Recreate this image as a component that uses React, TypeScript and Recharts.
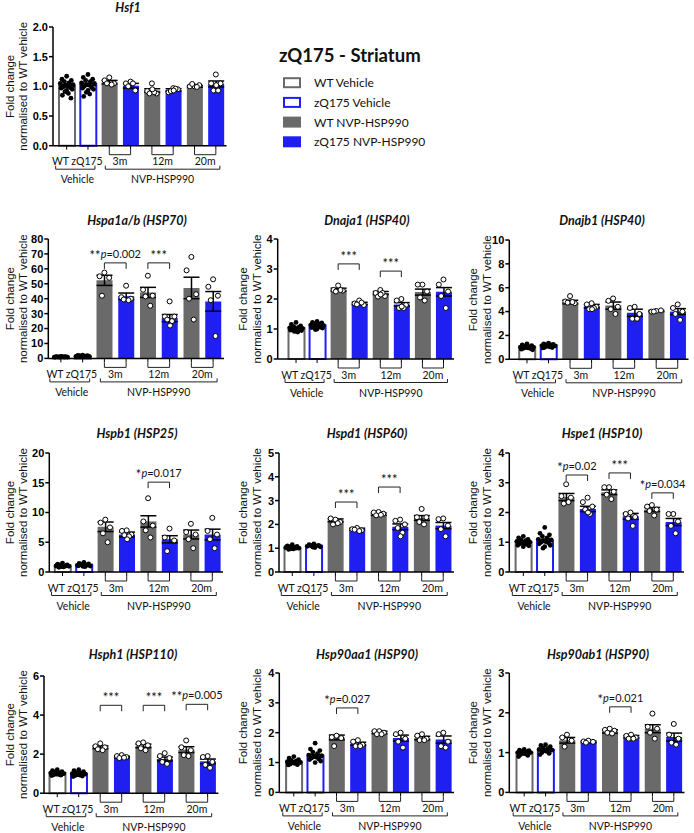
import React from "react";
import { ComposedChart, Bar, Cell, ErrorBar, Scatter, XAxis, YAxis } from "recharts";

// groups in plotting order
const GROUP_KEYS = ["wtVeh", "zqVeh", "wt3", "zq3", "wt12", "zq12", "wt20", "zq20"];
const PAIR_LABELS = ["3m", "12m", "20m"];

const GREY = "#6a6a6a";
const BLUE = "#1f1ff2";

// ---- Hsf1
const HSF1_MEAN = [1.01, 1.03, 1.07, 1.01, 0.93, 0.94, 1.0, 1.04];
const HSF1_SEM = [0.02, 0.02, 0.03, 0.04, 0.03, 0.02, 0.015, 0.05];
const HSF1_DOTS = [
  [1.17, 1.12, 1.1, 1.08, 1.06, 1.05, 1.03, 1.02, 1.0, 0.99, 0.98, 0.97, 0.95, 0.93, 0.91, 0.88, 0.85, 0.8],
  [1.2, 1.15, 1.12, 1.1, 1.08, 1.06, 1.05, 1.03, 1.02, 1.0, 0.98, 0.97, 0.95, 0.93, 0.9, 0.87, 0.83],
  [1.15, 1.1, 1.05, 1.05, 1.03],
  [1.08, 1.05, 0.93, 1.0, 1.05],
  [1.05, 0.92, 0.88, 0.88, 0.9, 0.95],
  [0.97, 0.9, 0.95, 0.92, 0.96, 0.93],
  [1.0, 1.0, 1.02, 1.04, 0.99],
  [1.2, 1.05, 1.05, 0.93, 0.93, 1.02],
];
const HSF1_SIG: any[] = [];

// ---- Hspa1a/b
const HSPA1_MEAN = [1.0, 1.5, 52.3, 41.6, 44.2, 27.0, 47.2, 38.2];
const HSPA1_SEM = [0.1, 0.1, 3.4, 2.2, 3.4, 2.4, 7.2, 6.6];
const HSPA1_DOTS = [
  [1.3, 1.2, 1.1, 1.0, 1.0, 0.9, 0.9, 0.8, 1.1, 1.0, 0.95, 0.85],
  [2.2, 2.0, 1.8, 1.6, 1.5, 1.4, 1.3, 1.2, 1.5, 1.7, 1.1, 1.4],
  [57.5, 55, 54, 42],
  [48.7, 41, 40, 39.5, 39],
  [55.4, 46, 42, 41.5, 35.3],
  [38.2, 28, 28, 26, 25, 22],
  [68, 59, 43, 40, 26],
  [53, 48, 42, 39, 15],
];
const HSPA1_SIG = [
  { pair: 0, y: 64, stars: "**", p: "0.002" },
  { pair: 1, y: 64, stars: "***" },
];

// ---- Dnaja1
const DNAJA1_MEAN = [1.03, 1.12, 2.31, 1.85, 2.2, 1.82, 2.23, 2.24];
const DNAJA1_SEM = [0.02, 0.02, 0.05, 0.04, 0.05, 0.06, 0.1, 0.14];
const DNAJA1_DOTS = [
  [1.22, 1.15, 1.1, 1.08, 1.05, 1.04, 1.02, 1.0, 0.99, 0.98, 0.97, 0.96, 0.95, 0.93, 0.92, 0.9],
  [1.25, 1.22, 1.2, 1.18, 1.15, 1.13, 1.12, 1.1, 1.1, 1.08, 1.06, 1.05, 1.03, 1.0, 0.98],
  [2.45, 2.3, 2.28, 2.25, 2.3],
  [1.95, 1.85, 1.8, 1.82, 1.88],
  [2.3, 2.2, 2.1, 2.08, 2.2, 2.15],
  [2.0, 1.95, 1.8, 1.7, 1.7, 1.75],
  [2.48, 2.48, 2.25, 2.05, 1.95],
  [2.65, 2.48, 2.25, 2.1, 1.7],
];
const DNAJA1_SIG = [
  { pair: 0, y: 3.17, stars: "***" },
  { pair: 1, y: 2.93, stars: "***" },
];

// ---- Dnajb1
const DNAJB1_MEAN = [1.06, 1.18, 4.8, 4.45, 4.5, 3.9, 4.05, 4.0];
const DNAJB1_SEM = [0.03, 0.03, 0.15, 0.15, 0.3, 0.3, 0.05, 0.25];
const DNAJB1_DOTS = [
  [1.3, 1.2, 1.15, 1.1, 1.05, 1.02, 1.0, 0.98, 0.95, 0.92, 0.9, 0.85, 0.8],
  [1.35, 1.3, 1.25, 1.2, 1.2, 1.15, 1.12, 1.1, 1.05, 1.0, 0.98, 0.95],
  [5.3, 4.85, 4.7, 4.75, 4.8],
  [4.7, 4.6, 4.4, 4.2, 4.3, 4.2],
  [5.1, 4.9, 4.4, 4.2, 3.8],
  [4.4, 4.3, 3.8, 3.4, 3.4],
  [4.05, 4.0, 4.1, 4.0],
  [4.6, 4.3, 4.0, 3.8, 3.3],
];
const DNAJB1_SIG: any[] = [];

// ---- Hspb1
const HSPB1_MEAN = [1.1, 1.2, 7.6, 6.3, 8.5, 5.5, 6.3, 6.3];
const HSPB1_SEM = [0.05, 0.06, 0.8, 0.4, 0.95, 0.6, 0.75, 0.9];
const HSPB1_DOTS = [
  [1.5, 1.3, 1.2, 1.1, 1.0, 1.0, 0.95, 0.9, 0.85, 0.8, 1.05, 1.15],
  [1.6, 1.45, 1.35, 1.25, 1.2, 1.1, 1.0, 0.95, 0.9, 1.3, 1.15, 1.05],
  [8.8, 8.3, 7.5, 6.5, 5.0],
  [7.0, 6.9, 6.3, 6.2, 6.0, 5.5],
  [12.4, 8.5, 7.8, 7.0, 5.8],
  [7.3, 5.8, 5.3, 3.5],
  [8.1, 6.7, 6.3, 5.5, 4.0],
  [9.1, 6.9, 6.3, 5.5, 4.0],
];
const HSPB1_SIG = [{ pair: 1, y: 15.1, stars: "*", p: "0.017" }];

// ---- Hspd1
const HSPD1_MEAN = [1.02, 1.1, 2.17, 1.8, 2.43, 1.9, 2.27, 1.95];
const HSPD1_SEM = [0.01, 0.01, 0.06, 0.04, 0.05, 0.12, 0.1, 0.13];
const HSPD1_DOTS = [
  [1.15, 1.1, 1.08, 1.05, 1.03, 1.02, 1.0, 0.98, 0.97, 0.95, 1.0, 1.06],
  [1.18, 1.15, 1.12, 1.1, 1.1, 1.08, 1.06, 1.05, 1.03, 1.12],
  [2.2, 2.25, 2.1, 2.0, 2.05],
  [1.85, 1.8, 1.75, 1.78, 1.72],
  [2.52, 2.5, 2.45, 2.38, 2.4],
  [2.2, 2.15, 2.0, 1.85, 1.65, 1.5],
  [2.65, 2.3, 2.3, 2.1, 2.0],
  [2.25, 2.22, 1.95, 1.8, 1.5],
];
const HSPD1_SIG = [
  { pair: 0, y: 2.94, stars: "***" },
  { pair: 1, y: 3.57, stars: "***" },
];

// ---- Hspe1
const HSPE1_MEAN = [1.01, 1.06, 2.52, 2.12, 2.68, 1.87, 2.1, 1.68];
const HSPE1_SEM = [0.02, 0.04, 0.12, 0.09, 0.08, 0.1, 0.07, 0.12];
const HSPE1_DOTS = [
  [1.2, 1.15, 1.1, 1.08, 1.05, 1.03, 1.0, 0.98, 0.96, 0.95, 0.93, 0.9, 0.88, 0.85, 1.02, 0.99],
  [1.5, 1.3, 1.25, 1.2, 1.15, 1.1, 1.08, 1.05, 1.02, 1.0, 0.98, 0.95, 0.9, 0.85, 0.8],
  [2.95, 2.55, 2.5, 2.3, 2.35],
  [2.5, 2.35, 2.2, 2.1, 1.95, 2.0],
  [2.85, 2.85, 2.7, 2.6, 2.45],
  [2.0, 1.95, 1.85, 1.8, 1.55],
  [2.25, 2.2, 2.1, 2.05, 1.9],
  [1.95, 1.95, 1.7, 1.55, 1.3],
];
const HSPE1_SIG = [
  { pair: 0, y: 3.26, stars: "*", p: "0.02" },
  { pair: 1, y: 3.33, stars: "***" },
  { pair: 2, y: 2.66, stars: "*", p: "0.034" },
];

// ---- Hsph1
const HSPH1_MEAN = [1.03, 1.0, 2.35, 1.85, 2.42, 1.75, 2.23, 1.63];
const HSPH1_SEM = [0.02, 0.02, 0.07, 0.04, 0.09, 0.1, 0.15, 0.12];
const HSPH1_DOTS = [
  [1.2, 1.15, 1.1, 1.08, 1.05, 1.03, 1.0, 0.98, 0.96, 0.94, 0.92, 0.9],
  [1.2, 1.15, 1.1, 1.05, 1.02, 1.0, 0.98, 0.95, 0.92, 0.9, 0.88, 0.85],
  [2.55, 2.4, 2.35, 2.25, 2.2],
  [1.95, 1.9, 1.85, 1.8, 1.82],
  [2.6, 2.55, 2.45, 2.3, 2.2],
  [2.05, 1.9, 1.8, 1.6, 1.5],
  [2.7, 2.35, 2.2, 1.95, 1.9],
  [1.9, 1.85, 1.6, 1.45, 1.3],
];
const HSPH1_SIG = [
  { pair: 0, y: 4.5, stars: "***" },
  { pair: 1, y: 4.5, stars: "***" },
  { pair: 2, y: 4.55, stars: "**", p: "0.005" },
];

// ---- Hsp90aa1
const HSP90AA1_MEAN = [1.03, 1.23, 1.84, 1.63, 2.01, 1.82, 1.82, 1.77];
const HSP90AA1_SEM = [0.02, 0.04, 0.08, 0.05, 0.04, 0.1, 0.06, 0.12];
const HSP90AA1_DOTS = [
  [1.2, 1.15, 1.1, 1.07, 1.05, 1.03, 1.0, 0.99, 0.97, 0.95, 0.93, 0.92],
  [1.65, 1.45, 1.4, 1.35, 1.3, 1.25, 1.22, 1.2, 1.18, 1.15, 1.12, 1.1, 1.05, 1.0],
  [1.9, 1.85, 1.82, 1.55],
  [1.75, 1.7, 1.6, 1.55, 1.55],
  [2.05, 2.05, 2.0, 1.95, 1.95],
  [2.0, 1.95, 1.8, 1.7, 1.5],
  [1.95, 1.9, 1.8, 1.75, 1.75],
  [2.0, 1.95, 1.7, 1.55, 1.5],
];
const HSP90AA1_SIG = [{ pair: 0, y: 2.83, stars: "*", p: "0.027" }];

// ---- Hsp90ab1
const HSP90AB1_MEAN = [1.0, 1.07, 1.31, 1.27, 1.53, 1.4, 1.6, 1.39];
const HSP90AB1_SEM = [0.01, 0.02, 0.07, 0.02, 0.04, 0.03, 0.1, 0.1];
const HSP90AB1_DOTS = [
  [1.08, 1.06, 1.05, 1.03, 1.02, 1.0, 1.0, 0.98, 0.97, 0.95, 0.93, 0.9],
  [1.2, 1.18, 1.15, 1.12, 1.1, 1.08, 1.06, 1.05, 1.03, 1.0, 0.98, 0.95],
  [1.45, 1.38, 1.3, 1.15],
  [1.3, 1.28, 1.27, 1.25],
  [1.6, 1.57, 1.55, 1.5, 1.48],
  [1.45, 1.42, 1.38, 1.35, 1.35],
  [1.98, 1.65, 1.6, 1.5, 1.35],
  [1.72, 1.45, 1.35, 1.25, 1.2],
];
const HSP90AB1_SIG = [{ pair: 1, y: 2.15, stars: "*", p: "0.021" }];

const LEGEND_ITEMS = [
  { name: "WT Vehicle", fill: "#fff", stroke: GREY },
  { name: "zQ175 Vehicle", fill: "#fff", stroke: BLUE },
  { name: "WT NVP-HSP990", fill: GREY, stroke: GREY },
  { name: "zQ175 NVP-HSP990", fill: BLUE, stroke: BLUE },
];

// horizontal spread of dots inside a bar (fraction of a category)
const JIT_DENSE = [0, -0.22, 0.22, -0.11, 0.11, -0.3, 0.3, -0.05, 0.05, -0.17, 0.17, -0.26, 0.26, 0, -0.08, 0.08, -0.2, 0.2, -0.13, 0.13];
const JIT_SPARSE = [0, -0.22, 0.22, -0.11, 0.11, 0.02, -0.25];

const PANELS = [
  { title: "Hsf1", yMax: 2, ticks: [0, 0.5, 1, 1.5, 2], dec: 1, mean: HSF1_MEAN, sem: HSF1_SEM, dots: HSF1_DOTS, sig: HSF1_SIG,
    L: { col: 0, axisX: 53, bandStart: 56, bandEnd: 226.5, top: 27.3, bottom: 146, titleX: 128, titleY: 8, labelX: [10, 23] } },
  { title: "Hspa1a/b (HSP70)", yMax: 80, ticks: [0, 10, 20, 30, 40, 50, 60, 70, 80], dec: 0, mean: HSPA1_MEAN, sem: HSPA1_SEM, dots: HSPA1_DOTS, sig: HSPA1_SIG,
    L: { col: 0, axisX: 48.3, bandStart: 50, bandEnd: 224, top: 239.3, bottom: 358.7, titleX: 137, titleY: 221, labelX: [10, 23] } },
  { title: "Dnaja1 (HSP40)", yMax: 4, ticks: [0, 1, 2, 3, 4], dec: 0, mean: DNAJA1_MEAN, sem: DNAJA1_SEM, dots: DNAJA1_DOTS, sig: DNAJA1_SIG,
    L: { col: 230, axisX: 277.7, bandStart: 285.5, bandEnd: 454, top: 239.3, bottom: 359.3, titleX: 367, titleY: 221, labelX: [243, 257] } },
  { title: "Dnajb1 (HSP40)", yMax: 10, ticks: [0, 2, 4, 6, 8, 10], dec: 0, mean: DNAJB1_MEAN, sem: DNAJB1_SEM, dots: DNAJB1_DOTS, sig: DNAJB1_SIG,
    L: { col: 460, axisX: 509.3, bandStart: 516.2, bandEnd: 688.5, top: 240, bottom: 359.3, titleX: 602, titleY: 221, labelX: [473, 487] } },
  { title: "Hspb1 (HSP25)", yMax: 20, ticks: [0, 5, 10, 15, 20], dec: 0, mean: HSPB1_MEAN, sem: HSPB1_SEM, dots: HSPB1_DOTS, sig: HSPB1_SIG,
    L: { col: 0, axisX: 49.3, bandStart: 51.8, bandEnd: 223, top: 452.7, bottom: 571.7, titleX: 137, titleY: 434, labelX: [10, 23] } },
  { title: "Hspd1 (HSP60)", yMax: 5, ticks: [0, 1, 2, 3, 4, 5], dec: 0, mean: HSPD1_MEAN, sem: HSPD1_SEM, dots: HSPD1_DOTS, sig: HSPD1_SIG,
    L: { col: 230, axisX: 279, bandStart: 281.5, bandEnd: 454, top: 452.7, bottom: 571.7, titleX: 367, titleY: 434, labelX: [243, 257] } },
  { title: "Hspe1 (HSP10)", yMax: 4, ticks: [0, 1, 2, 3, 4], dec: 0, mean: HSPE1_MEAN, sem: HSPE1_SEM, dots: HSPE1_DOTS, sig: HSPE1_SIG,
    L: { col: 460, axisX: 509.3, bandStart: 512.6, bandEnd: 684, top: 452.7, bottom: 571.7, titleX: 602, titleY: 434, labelX: [473, 487] } },
  { title: "Hsph1 (HSP110)", yMax: 6, ticks: [0, 2, 4, 6], dec: 0, mean: HSPH1_MEAN, sem: HSPH1_SEM, dots: HSPH1_DOTS, sig: HSPH1_SIG,
    L: { col: 0, axisX: 44, bandStart: 46.5, bandEnd: 218.4, top: 675.5, bottom: 792.7, titleX: 133, titleY: 655, labelX: [10, 23] } },
  { title: "Hsp90aa1 (HSP90)", yMax: 4, ticks: [0, 1, 2, 3, 4], dec: 0, mean: HSP90AA1_MEAN, sem: HSP90AA1_SEM, dots: HSP90AA1_DOTS, sig: HSP90AA1_SIG,
    L: { col: 230, axisX: 279.3, bandStart: 283.1, bandEnd: 454, top: 673.3, bottom: 792.7, titleX: 367, titleY: 655, labelX: [243, 257] } },
  { title: "Hsp90ab1 (HSP90)", yMax: 3, ticks: [0, 1, 2, 3], dec: 0, mean: HSP90AB1_MEAN, sem: HSP90AB1_SEM, dots: HSP90AB1_DOTS, sig: HSP90AB1_SIG,
    L: { col: 460, axisX: 509.3, bandStart: 513.5, bandEnd: 684.5, top: 673.3, bottom: 792.7, titleX: 598, titleY: 655, labelX: [473, 487] } },
];

const LABEL_FONT = "Lato, 'Liberation Sans', sans-serif";
const AXIS_FONT = "'Liberation Sans', Arial, sans-serif";

const Panel = ({ cfg }: { cfg: any }) => {
  const L = cfg.L;
  const marginTop = 12;
  const xAxisH = 50;
  const plotH = L.bottom - L.top;
  const padL = L.bandStart - L.axisX;
  const step = (L.bandEnd - L.bandStart) / 8;
  // leave room on the right so bracket texts are not clipped
  const rightEdge = Math.min(L.bandEnd + 24, 694);
  const width = rightEdge - L.col;
  const marginRight = rightEdge - L.bandEnd;
  const height = marginTop + plotH + xAxisH;
  const axisY = marginTop + plotH;

  const barData = GROUP_KEYS.map((k, i) => ({ key: k, mean: cfg.mean[i], sem: cfg.sem[i] }));
  const vehDots: any[] = [];
  const trtDots: any[] = [];
  cfg.dots.forEach((vals: number[], g: number) => {
    vals.forEach((v, j) => {
      if (g < 2) vehDots.push({ x: g + JIT_DENSE[j % JIT_DENSE.length], y: v });
      else trtDots.push({ x: g + JIT_SPARSE[j % JIT_SPARSE.length], y: v });
    });
  });
  const sigData = cfg.sig.map((s: any) => ({ ...s, x: 2 + s.pair * 2 + 0.5 }));

  const renderTick = (props: any) => {
    const { x, payload } = props;
    const i = GROUP_KEYS.indexOf(payload.value);
    const els: any[] = [];
    const txt = { fontFamily: LABEL_FONT, fontSize: 10.5, fill: "#111", textAnchor: "middle" as const };
    const line = { fill: "none", stroke: "#222", strokeWidth: 1 };
    if (i === 0) {
      els.push(<text key="t" x={x + step / 2} y={axisY + 19.5} {...txt}>WT zQ175</text>);
      els.push(<path key="b" d={`M${x - 11},${axisY + 20}V${axisY + 23.5}H${x + step + 7}V${axisY + 20}`} {...line} />);
      els.push(<text key="g" x={x + step / 2} y={axisY + 37.5} {...txt}>Vehicle</text>);
    }
    if (i === 2 || i === 4 || i === 6) {
      els.push(<path key="pb" d={`M${x},${axisY + 4}V${axisY + 9}H${x + step}V${axisY + 4}`} {...line} />);
      els.push(<text key="pt" x={x + step / 2} y={axisY + 19.5} {...txt}>{PAIR_LABELS[(i - 2) / 2]}</text>);
    }
    if (i === 2) {
      els.push(<path key="nb" d={`M${x - 4},${axisY + 20}V${axisY + 23.5}H${x + 5 * step + 4}V${axisY + 20}`} {...line} />);
      els.push(<text key="ng" x={x + 2.5 * step} y={axisY + 37.5} {...txt}>NVP-HSP990</text>);
    }
    return <g>{els}</g>;
  };

  const sigShape = (props: any) => {
    const { cx, cy, payload } = props;
    const h = step / 2;
    return (
      <g>
        <path d={`M${cx - h},${cy + 6}V${cy}H${cx + h}V${cy + 6}`} fill="none" stroke="#222" strokeWidth={1} />
        <text x={cx} y={cy - 5} textAnchor="middle" fontFamily={LABEL_FONT} fontSize={11} fill="#111">
          <tspan fontSize={13} dy={2}>{payload.stars}</tspan>
          {payload.p ? <tspan fontStyle="italic" dy={-2}>p</tspan> : null}
          {payload.p ? <tspan>{`=${payload.p}`}</tspan> : null}
        </text>
      </g>
    );
  };

  const yLabel = () => {
    const cy = marginTop + plotH / 2;
    const x1 = L.labelX[0] - L.col;
    const x2 = L.labelX[1] - L.col;
    const st = { fontFamily: AXIS_FONT, fontSize: 11.5, fill: "#111", textAnchor: "middle" as const, dominantBaseline: "central" as const };
    return (
      <g>
        <text x={x1} y={cy} transform={`rotate(-90, ${x1}, ${cy})`} {...st}>Fold change</text>
        <text x={x2} y={cy} transform={`rotate(-90, ${x2}, ${cy})`} {...st}>normalised to WT vehicle</text>
      </g>
    );
  };

  return (
    <>
      <div
        style={{
          position: "absolute",
          left: L.titleX - 110,
          width: 220,
          top: L.titleY - 9,
          textAlign: "center",
          fontFamily: LABEL_FONT,
          fontWeight: 700,
          fontStyle: "italic",
          fontSize: 12.5,
          lineHeight: "18px",
          color: "#111",
        }}
      >
        {cfg.title}
      </div>
      <div style={{ position: "absolute", left: L.col, top: L.top - marginTop }}>
        <ComposedChart
          width={width}
          height={height}
          data={barData}
          margin={{ top: marginTop, right: marginRight, left: 0, bottom: 0 }}
        >
          <XAxis
            dataKey="key"
            type="category"
            height={xAxisH}
            padding={{ left: padL, right: 0 }}
            interval={0}
            tickSize={4}
            tickMargin={0}
            tick={renderTick}
            axisLine={{ stroke: "#000", strokeWidth: 1.5 }}
            tickLine={{ stroke: "#000", strokeWidth: 1 }}
          />
          <XAxis xAxisId="n" type="number" dataKey="x" domain={[-0.5, 7.5]} padding={{ left: padL, right: 0 }} hide />
          <YAxis
            width={L.axisX - L.col}
            type="number"
            domain={[0, cfg.yMax]}
            ticks={cfg.ticks}
            interval={0}
            tickSize={4}
            tickMargin={1}
            tickFormatter={(v: number) => v.toFixed(cfg.dec)}
            tick={{ fontFamily: AXIS_FONT, fontSize: 11, fontWeight: 700, fill: "#000" }}
            axisLine={{ stroke: "#000", strokeWidth: 1.5 }}
            tickLine={{ stroke: "#000", strokeWidth: 1.5 }}
            label={{ content: yLabel }}
          />
          <YAxis yAxisId="n" type="number" dataKey="y" domain={[0, cfg.yMax]} hide />
          <Bar dataKey="mean" barSize={16} isAnimationActive={false}>
            {barData.map((d, i) => (
              <Cell
                key={d.key}
                fill={i < 2 ? "#fff" : i % 2 === 0 ? GREY : BLUE}
                stroke={i === 0 ? GREY : i === 1 ? BLUE : "none"}
                strokeWidth={i < 2 ? 2 : 0}
              />
            ))}
            <ErrorBar dataKey="sem" width={8} stroke="#000" strokeWidth={1.5} direction="y" />
          </Bar>
          <Scatter
            xAxisId="n"
            yAxisId="n"
            data={vehDots}
            isAnimationActive={false}
            shape={(p: any) => <circle cx={p.cx} cy={p.cy} r={2.4} fill="#000" />}
          />
          <Scatter
            xAxisId="n"
            yAxisId="n"
            data={trtDots}
            isAnimationActive={false}
            shape={(p: any) => <circle cx={p.cx} cy={p.cy} r={2.5} fill="#fff" stroke="#000" strokeWidth={1} />}
          />
          <Scatter xAxisId="n" yAxisId="n" data={sigData} isAnimationActive={false} shape={sigShape} />
        </ComposedChart>
      </div>
    </>
  );
};

export default function App() {
  return (
    <div style={{ position: "absolute", left: 0, top: 0, width: 694, height: 833, background: "#fff", fontFamily: LABEL_FONT, overflow: "hidden" }}>
      <svg style={{ position: "absolute", left: 0, top: 0 }} width={694} height={160}>
        <text x={279} y={62} fontFamily={LABEL_FONT} fontWeight={700} fontSize={18.5} fill="#111">
          zQ175 - Striatum
        </text>
        {LEGEND_ITEMS.map((it, i) => {
          const cy = 82.7 + i * 19.7;
          const outline = it.fill === "#fff";
          return (
            <g key={it.name}>
              <rect
                x={outline ? 284 : 283}
                y={outline ? cy - 4.5 : cy - 5.5}
                width={outline ? 16 : 18}
                height={outline ? 9 : 11}
                fill={it.fill}
                stroke={outline ? it.stroke : "none"}
                strokeWidth={2}
              />
              <text x={314} y={cy + 4.5} fontFamily={LABEL_FONT} fontSize={12} fill="#111">
                {it.name}
              </text>
            </g>
          );
        })}
      </svg>
      {PANELS.map((p) => (
        <Panel key={p.title} cfg={p} />
      ))}
    </div>
  );
}
